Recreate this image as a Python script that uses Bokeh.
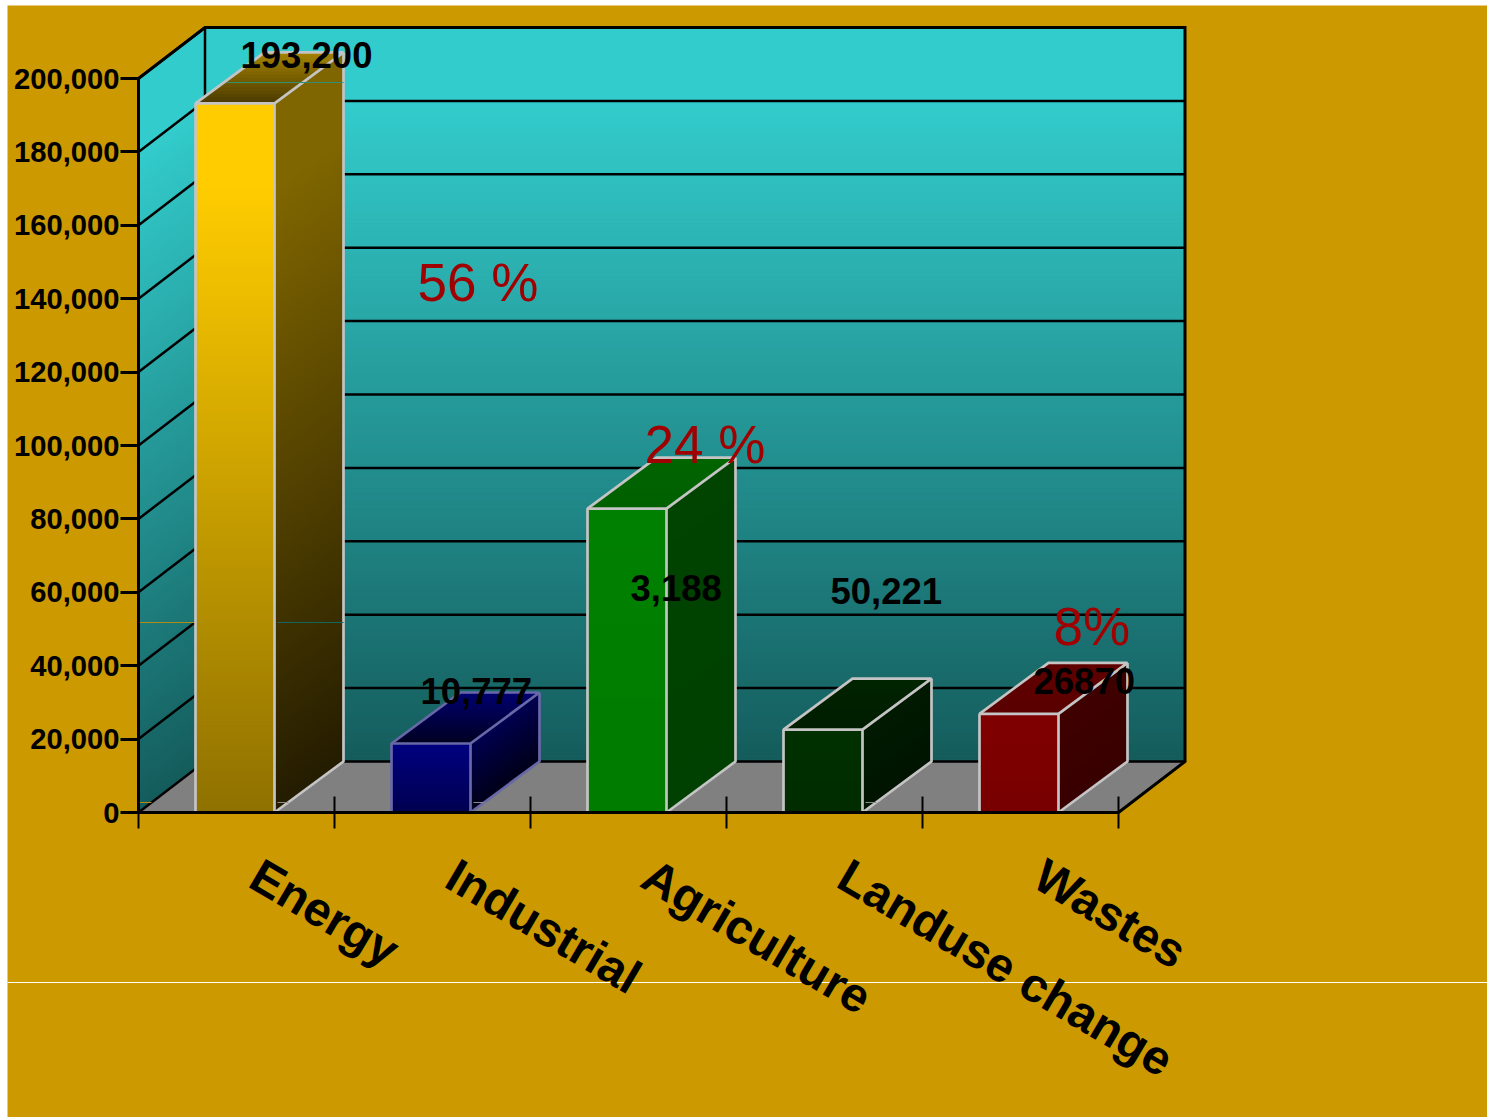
from bokeh.core.properties import value
from bokeh.embed import file_html
from bokeh.models import FixedTicker, LinearAxis, NumeralTickFormatter, Range1d
from bokeh.plotting import figure
from bokeh.resources import INLINE

# Emissions by sector
categories = ["Energy", "Industrial", "Agriculture", "Landuse change", "Wastes"]
bar_values = [193200, 18800, 82800, 22600, 26870]
value_labels = ["193,200", "10,777", "3,188", "50,221", "26870"]
share_labels = ["56 %", "24 %", "8%"]
y_ticks = list(range(0, 200001, 20000))

# Canvas calibration: category slots along x, emission units along y
WIDTH, HEIGHT = 1487, 1117
ORIGIN_X, ORIGIN_Y = 138, 812
SLOT_PX = 196
UNITS_PER_PX = 200000 / 734


def xd(px):
    return (px - ORIGIN_X) / SLOT_PX


def yd(py):
    return (ORIGIN_Y - py) * UNITS_PER_PX


def rgb(c):
    return tuple(int(c[i:i + 2], 16) for i in (1, 3, 5))


def mix(a, b, t):
    ca, cb = rgb(a), rgb(b)
    return "#%02x%02x%02x" % tuple(round(u + (v - u) * t) for u, v in zip(ca, cb))


WALL_DX = 66.5 / SLOT_PX
BAR_DX = 69 / SLOT_PX
DEPTH_DY = 51 * UNITS_PER_PX
BAR_LEFT = 57 / SLOT_PX
BAR_WIDTH = 79 / SLOT_PX

p = figure(
    width=WIDTH, height=HEIGHT, output_backend="svg", toolbar_location=None,
    x_axis_type=None, y_axis_type=None, min_border=0, outline_line_color=None,
    background_fill_color="white", border_fill_color="white",
    x_range=Range1d(xd(0), xd(WIDTH)), y_range=Range1d(yd(HEIGHT), yd(0)),
)

p.quad(left=xd(7), right=xd(WIDTH), bottom=yd(HEIGHT), top=yd(5),
       fill_color="#cc9900", line_color=None)


def shaded_face(bl, br, tr, tl, c_bottom, c_top, strips, hold=0.0):
    """Gradient over a quadrilateral; each slice overpaints up to the far edge.

    hold is the share of the face, from the far edge, kept at the pure far colour.
    """
    xs, ys, colors = [], [], []
    for k in range(strips):
        t0 = k / strips
        xs.append([bl[0] + (tl[0] - bl[0]) * t0, br[0] + (tr[0] - br[0]) * t0, tr[0], tl[0]])
        ys.append([bl[1] + (tl[1] - bl[1]) * t0, br[1] + (tr[1] - br[1]) * t0, tr[1], tl[1]])
        colors.append(mix(c_bottom, c_top, min(1.0, (k + 0.5) / strips / (1 - hold))))
    p.patches(xs, ys, fill_color=colors, line_color=None)


# Walls and floor
n = len(categories)
top = y_ticks[-1]
WALL_TOP, WALL_BOTTOM = "#33cccc", "#155c5c"
shaded_face((WALL_DX, DEPTH_DY), (n + WALL_DX, DEPTH_DY),
            (n + WALL_DX, top + DEPTH_DY), (WALL_DX, top + DEPTH_DY),
            WALL_BOTTOM, WALL_TOP, 180, hold=0.1)
shaded_face((0, 0), (WALL_DX, DEPTH_DY), (WALL_DX, top + DEPTH_DY), (0, top),
            WALL_BOTTOM, WALL_TOP, 180, hold=0.1)
p.patch([0, WALL_DX, n + WALL_DX, n], [0, DEPTH_DY, DEPTH_DY, 0],
        fill_color="#808080", line_color=None)

# Gridlines on both walls
p.segment([WALL_DX] * len(y_ticks), [v + DEPTH_DY for v in y_ticks],
          [n + WALL_DX] * len(y_ticks), [v + DEPTH_DY for v in y_ticks],
          line_color="black", line_width=2.5)
p.segment([0] * len(y_ticks), y_ticks, [WALL_DX] * len(y_ticks), [v + DEPTH_DY for v in y_ticks],
          line_color="black", line_width=2.5)

# Wall outline
p.line([0, WALL_DX, n + WALL_DX, n + WALL_DX, n],
       [top, top + DEPTH_DY, top + DEPTH_DY, DEPTH_DY, 0],
       line_color="black", line_width=3, line_join="miter")
p.line([WALL_DX, WALL_DX], [DEPTH_DY, top + DEPTH_DY], line_color="black", line_width=2.5)

# Faint horizontal rules left behind the bars
p.segment([xd(139)], [yd(622)], [xd(196)], [yd(622)], line_color="#b58a10", line_width=1)
p.segment([xd(139)], [yd(802)], [xd(151)], [yd(802)], line_color="#b58a10", line_width=1)

# Shading per bar: front top/bottom, side top/bottom, lid back/front, edge
bar_styles = [
    ("#ffcc00", "#8f7100", "#806600", "#241c00", "#a58300", "#4a3a00", "#c4c4c4"),
    ("#000080", "#000050", "#000050", "#000018", "#000070", "#000020", "#6868a8"),
    ("#008000", "#007c00", "#004400", "#004000", "#006400", "#006000", "#c4c4c4"),
    ("#003000", "#002c00", "#001a00", "#001400", "#002400", "#001c00", "#c4c4c4"),
    ("#800000", "#780000", "#400000", "#380000", "#600000", "#5a0000", "#c4c4c4"),
]

EDGE = 2.7
for i, (v, st) in enumerate(zip(bar_values, bar_styles)):
    x0 = i + BAR_LEFT
    x1 = x0 + BAR_WIDTH
    x2 = x1 + BAR_DX
    xb = x0 + BAR_DX
    steps = max(8, int(v / UNITS_PER_PX / 3))
    hold = 0.12 if i == 0 else 0.0
    shaded_face((x0, 0), (x1, 0), (x1, v), (x0, v), st[1], st[0], steps, hold)
    shaded_face((x1, 0), (x2, DEPTH_DY), (x2, v + DEPTH_DY), (x1, v), st[3], st[2], steps, hold)
    shaded_face((x0, v), (x1, v), (x2, v + DEPTH_DY), (xb, v + DEPTH_DY), st[5], st[4], 16)
    p.line([x0, x0, x1, x1], [0, v, v, 0], line_color=st[6], line_width=EDGE)
    p.line([x0, xb, x2, x1], [v, v + DEPTH_DY, v + DEPTH_DY, v], line_color=st[6], line_width=EDGE)
    p.line([x2, x2, x1], [v + DEPTH_DY, DEPTH_DY, 0], line_color=st[6], line_width=EDGE)

# The same faint rules where they cross the bar sides
p.segment([xd(277)], [yd(622)], [xd(343)], [yd(622)], line_color="#16645e", line_width=1)
p.segment([xd(226)], [yd(82)], [xd(343)], [yd(82)], line_color="#2f8f70", line_width=1)
p.segment([xd(x) for x in (277, 473, 865)], [yd(802)] * 3,
          [xd(x) for x in (288, 484, 876)], [yd(802)] * 3,
          line_color="#8c8c8c", line_width=1)

# Page separator
p.segment([xd(7)], [yd(982)], [xd(WIDTH)], [yd(982)], line_color="white", line_width=1)

# Axes
y_axis = LinearAxis(
    fixed_location=0, bounds=(0, top), ticker=FixedTicker(ticks=y_ticks),
    formatter=NumeralTickFormatter(format="0,0"),
    axis_line_color="black", axis_line_width=3,
    major_tick_line_color="black", major_tick_line_width=3,
    major_tick_in=0, major_tick_out=18, minor_tick_line_color=None,
    major_label_standoff=1, major_label_text_color="black",
    major_label_text_font="Liberation Sans", major_label_text_font_style="bold",
    major_label_text_font_size="29.2px",
)
p.add_layout(y_axis, "left")

x_axis = LinearAxis(
    fixed_location=0, bounds=(0, n), ticker=FixedTicker(ticks=list(range(n + 1))),
    axis_line_color="black", axis_line_width=3,
    major_tick_line_color="black", major_tick_line_width=2,
    major_tick_in=16, major_tick_out=16, minor_tick_line_color=None,
    major_label_text_color=None, major_label_text_font_size="1px",
)
p.add_layout(x_axis, "below")

# Category names, slanted under their slots
p.text([i + xd(254) for i in range(n)], [yd(871)] * n, text=categories,
       angle=-30.5, angle_units="deg", text_font=value("Liberation Sans"),
       text_font_style="bold", text_font_size="48px", text_color="black",
       text_align="left", text_baseline="alphabetic")

# Value callouts
label_x = [240, 420, 630, 830, 1033]
label_y = [54, 690, 587, 590, 680]
p.text([xd(x) for x in label_x], [yd(y) for y in label_y], text=value_labels,
       text_font=value("Liberation Sans"), text_font_style="bold",
       text_font_size="36.5px", text_color="black",
       text_align="left", text_baseline="alphabetic")

# Share callouts
share_x = [417, 644, 1053]
share_y = [282, 444, 626]
p.text([xd(x) for x in share_x], [yd(y) for y in share_y], text=share_labels,
       text_font=value("Liberation Sans"), text_font_size="53px", text_color="#a00000",
       text_align="left", text_baseline="alphabetic")

open("out.html", "w").write(file_html(p, INLINE))
